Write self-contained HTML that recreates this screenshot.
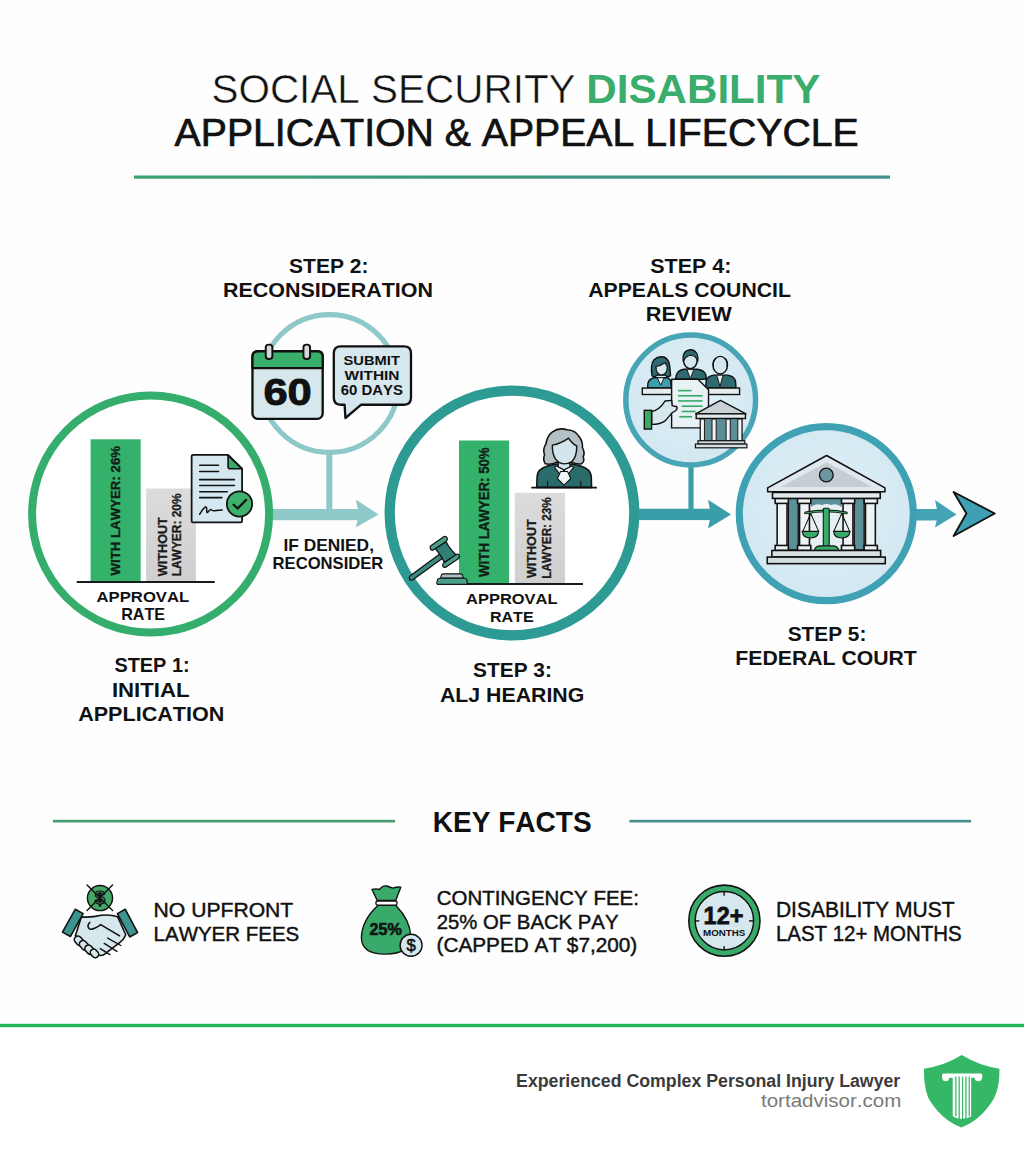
<!DOCTYPE html><html><head><meta charset="utf-8"><style>html,body{margin:0;padding:0;background:#fff;width:1024px;height:1154px;overflow:hidden}text{font-family:"Liberation Sans",sans-serif}</style></head><body><svg width="1024" height="1154" viewBox="0 0 1024 1154" style="display:block;font-family:'Liberation Sans',sans-serif;font-kerning:none"><rect x="0" y="0" width="1024" height="1025" fill="#fefefe"/><rect x="0" y="1025" width="1024" height="129" fill="#ffffff"/><text x="211.46" y="102.60" font-size="39.83" font-weight="normal" fill="#111" textLength="364.13" lengthAdjust="spacingAndGlyphs" stroke="#fefefe" stroke-width="0.5">SOCIAL SECURITY</text><text x="586.38" y="102.60" font-size="39.83" font-weight="bold" fill="#3aac6c" textLength="234.00" lengthAdjust="spacingAndGlyphs" >DISABILITY</text><text x="174.62" y="146.30" font-size="38.81" font-weight="normal" fill="#111" textLength="684.06" lengthAdjust="spacingAndGlyphs" stroke="#111" stroke-width="0.7">APPLICATION &amp; APPEAL LIFECYCLE</text><defs><linearGradient id="tl" x1="0" x2="1"><stop offset="0" stop-color="#3ca06e"/><stop offset="1" stop-color="#3f8f8e"/></linearGradient><radialGradient id="lb" cx="0.5" cy="0.45" r="0.6"><stop offset="0" stop-color="#dff0f7"/><stop offset="1" stop-color="#d2e7f1"/></radialGradient><linearGradient id="gb" x1="0" x2="0" y1="0" y2="1"><stop offset="0" stop-color="#dcdcdc"/><stop offset="1" stop-color="#cfcfcf"/></linearGradient></defs><rect x="134" y="175.5" width="756" height="3.2" fill="url(#tl)"/><rect x="268" y="509" width="93" height="11.2" fill="#8ec8c8"/><polygon points="355.8,499.6 378.6,514.5 355.8,527.6 359,514.5" fill="#8ec8c8"/><rect x="326.3" y="450" width="6" height="62" fill="#8ec8c8"/><rect x="630" y="508.7" width="83" height="11.4" fill="#3a9ea8"/><polygon points="708,499.8 731,514.4 708,528.4 711,514.4" fill="#3a9ea8"/><rect x="688.4" y="462" width="5.2" height="50" fill="#3a9ea8"/><rect x="910" y="509" width="30" height="11.5" fill="#45a3b6"/><polygon points="935,500 956.5,514.5 935,527.6 938,514.5" fill="#45a3b6"/><polygon points="953.6,492 994.7,513.5 953.6,536 966.4,513.5" fill="#3fa0b4" stroke="#111" stroke-width="1.9" stroke-linejoin="round"/><circle cx="150.6" cy="514" r="118.5" fill="#ffffff" stroke="#35ad6c" stroke-width="8"/><circle cx="329.5" cy="383.5" r="68.9" fill="none" stroke="#8ec8c8" stroke-width="5.2"/><circle cx="512" cy="513" r="122.3" fill="#ffffff" stroke="#2e9a94" stroke-width="10.3"/><circle cx="690.7" cy="400" r="64.9" fill="url(#lb)" stroke="#48a5b5" stroke-width="5.5"/><circle cx="826.3" cy="513.7" r="87" fill="url(#lb)" stroke="#3fa2b4" stroke-width="7.2"/><rect x="90.6" y="439.3" width="50.1" height="142.5" fill="#34b26c"/><rect x="146.1" y="488.5" width="49.8" height="93.3" fill="url(#gb)"/><rect x="76.7" y="581" width="138" height="2" fill="#161c1e"/><g transform="translate(120.30,575.50) rotate(-90)"><text x="-0.01" y="0" font-size="13.08" font-weight="bold" fill="#102015" textLength="129.56" lengthAdjust="spacingAndGlyphs" stroke="#102015" stroke-width="0.35">WITH LAWYER: 26%</text></g><g transform="translate(167.40,576.20) rotate(-90)"><text x="-0.01" y="0" font-size="13.08" font-weight="bold" fill="#1a1a1a" textLength="59.05" lengthAdjust="spacingAndGlyphs" stroke="#1a1a1a" stroke-width="0.3">WITHOUT</text></g><g transform="translate(180.60,575.50) rotate(-90)"><text x="-0.80" y="0" font-size="12.06" font-weight="bold" fill="#1a1a1a" textLength="82.91" lengthAdjust="spacingAndGlyphs" stroke="#1a1a1a" stroke-width="0.3">LAWYER: 20%</text></g><text x="96.58" y="602.00" font-size="14.97" font-weight="bold" fill="#111" textLength="92.63" lengthAdjust="spacingAndGlyphs" >APPROVAL</text><text x="121.22" y="620.00" font-size="15.99" font-weight="bold" fill="#111" textLength="43.91" lengthAdjust="spacingAndGlyphs" >RATE</text><g transform="translate(185,445) scale(0.07368)"><path d="M120,135 L585,135 L775,320 L775,1030 Q775,1050 755,1050 L110,1050 Q90,1050 90,1030 L90,155 Q90,135 120,135 Z" fill="#d5e8f0" stroke="#111" stroke-width="24" stroke-linejoin="round"/><path d="M585,140 L585,295 Q585,322 612,322 L770,322 Z" fill="#3aaa6b" stroke="#111" stroke-width="22" stroke-linejoin="round"/><g stroke="#111" stroke-width="22" stroke-linecap="round"><line x1="200" y1="275" x2="455" y2="275"/><line x1="200" y1="360" x2="455" y2="360"/><line x1="200" y1="470" x2="670" y2="470"/><line x1="200" y1="550" x2="670" y2="550"/><line x1="200" y1="635" x2="575" y2="635"/><line x1="200" y1="715" x2="500" y2="715"/></g><path d="M198,940 C240,870 280,820 292,850 C300,880 285,925 305,915 C330,895 345,860 365,885 C390,905 430,880 505,882" fill="none" stroke="#111" stroke-width="20" stroke-linecap="round"/><circle cx="740" cy="800" r="172" fill="#3db26d" stroke="#111" stroke-width="24"/><path d="M660,810 L715,862 L830,745" fill="none" stroke="#111" stroke-width="30" stroke-linecap="round" stroke-linejoin="round"/></g><text x="114.43" y="672.30" font-size="19.77" font-weight="bold" fill="#111" textLength="75.19" lengthAdjust="spacingAndGlyphs" >STEP 1:</text><text x="111.92" y="697.00" font-size="20.35" font-weight="bold" fill="#111" textLength="77.67" lengthAdjust="spacingAndGlyphs" >INITIAL</text><text x="78.16" y="720.90" font-size="20.49" font-weight="bold" fill="#111" textLength="146.19" lengthAdjust="spacingAndGlyphs" >APPLICATION</text><text x="289.09" y="272.70" font-size="20.49" font-weight="bold" fill="#111" textLength="79.43" lengthAdjust="spacingAndGlyphs" >STEP 2:</text><text x="223.06" y="296.60" font-size="19.62" font-weight="bold" fill="#111" textLength="209.88" lengthAdjust="spacingAndGlyphs" >RECONSIDERATION</text><text x="283.44" y="550.80" font-size="17.15" font-weight="bold" fill="#111" textLength="90.52" lengthAdjust="spacingAndGlyphs" >IF DENIED,</text><text x="272.59" y="569.20" font-size="15.99" font-weight="bold" fill="#111" textLength="110.75" lengthAdjust="spacingAndGlyphs" >RECONSIDER</text><text x="473.10" y="677.30" font-size="19.77" font-weight="bold" fill="#111" textLength="78.81" lengthAdjust="spacingAndGlyphs" >STEP 3:</text><text x="439.97" y="701.80" font-size="20.06" font-weight="bold" fill="#111" textLength="144.35" lengthAdjust="spacingAndGlyphs" >ALJ HEARING</text><text x="650.18" y="272.70" font-size="19.91" font-weight="bold" fill="#111" textLength="81.29" lengthAdjust="spacingAndGlyphs" >STEP 4:</text><text x="588.17" y="297.00" font-size="19.33" font-weight="bold" fill="#111" textLength="202.78" lengthAdjust="spacingAndGlyphs" >APPEALS COUNCIL</text><text x="645.84" y="320.50" font-size="19.62" font-weight="bold" fill="#111" textLength="85.88" lengthAdjust="spacingAndGlyphs" >REVIEW</text><text x="787.70" y="640.50" font-size="19.91" font-weight="bold" fill="#111" textLength="78.70" lengthAdjust="spacingAndGlyphs" >STEP 5:</text><text x="735.38" y="664.80" font-size="20.35" font-weight="bold" fill="#111" textLength="181.45" lengthAdjust="spacingAndGlyphs" >FEDERAL COURT</text><g transform="translate(245,335) scale(0.1660)"><rect x="45" y="98" width="423" height="407" rx="32" fill="#d6e7ee" stroke="#111" stroke-width="14"/><path d="M45,200 L45,130 Q45,98 77,98 L436,98 Q468,98 468,130 L468,200 Z" fill="#38b06c" stroke="#111" stroke-width="14" stroke-linejoin="round"/><rect x="125" y="58" width="40" height="87" rx="18" fill="#d3dadc" stroke="#111" stroke-width="12"/><rect x="352" y="58" width="40" height="87" rx="18" fill="#d3dadc" stroke="#111" stroke-width="12"/><path d="M535,110 Q535,68 577,68 L958,68 Q1000,68 1000,110 L1000,378 Q1000,420 958,420 L700,420 L605,500 L600,420 L577,420 Q535,420 535,378 Z" fill="#d6e7ee" stroke="#111" stroke-width="14" stroke-linejoin="round"/></g><text x="263.41" y="405.00" font-size="36.34" font-weight="bold" fill="#111" textLength="48.38" lengthAdjust="spacingAndGlyphs" stroke="#111" stroke-width="0.9">60</text><text x="343.58" y="364.50" font-size="12.79" font-weight="bold" fill="#111" textLength="56.28" lengthAdjust="spacingAndGlyphs" >SUBMIT</text><text x="344.58" y="379.80" font-size="13.23" font-weight="bold" fill="#111" textLength="54.96" lengthAdjust="spacingAndGlyphs" >WITHIN</text><text x="340.75" y="395.10" font-size="13.81" font-weight="bold" fill="#111" textLength="62.23" lengthAdjust="spacingAndGlyphs" >60 DAYS</text><rect x="459" y="440.5" width="50.1" height="143" fill="#34b26c"/><rect x="514.8" y="492.8" width="50.2" height="90.7" fill="url(#gb)"/><rect x="437" y="583" width="146" height="2" fill="#161c1e"/><g transform="translate(489.20,576.90) rotate(-90)"><text x="-0.01" y="0" font-size="14.53" font-weight="bold" fill="#102015" textLength="129.56" lengthAdjust="spacingAndGlyphs" stroke="#102015" stroke-width="0.35">WITH LAWYER: 50%</text></g><g transform="translate(536.40,578.00) rotate(-90)"><text x="-0.01" y="0" font-size="13.52" font-weight="bold" fill="#1a1a1a" textLength="58.65" lengthAdjust="spacingAndGlyphs" stroke="#1a1a1a" stroke-width="0.3">WITHOUT</text></g><g transform="translate(550.70,578.00) rotate(-90)"><text x="-0.79" y="0" font-size="13.37" font-weight="bold" fill="#1a1a1a" textLength="81.60" lengthAdjust="spacingAndGlyphs" stroke="#1a1a1a" stroke-width="0.3">LAWYER: 23%</text></g><text x="466.09" y="604.00" font-size="14.53" font-weight="bold" fill="#111" textLength="91.42" lengthAdjust="spacingAndGlyphs" >APPROVAL</text><text x="489.93" y="621.50" font-size="15.26" font-weight="bold" fill="#111" textLength="43.70" lengthAdjust="spacingAndGlyphs" >RATE</text><g transform="translate(400,525) scale(0.078125)"><path d="M135,645 L510,372 L545,425 L165,700 Q135,715 120,690 Q112,665 135,645 Z" fill="#3a8a80" stroke="#111" stroke-width="16" stroke-linejoin="round"/><path d="M450,300 L590,215 Q630,300 720,385 L570,480 Q520,380 450,300 Z" fill="#2f7f78" stroke="#111" stroke-width="16" stroke-linejoin="round"/><path d="M395,265 L560,150 Q590,135 605,170 Q612,195 590,210 L425,320 Q400,330 388,300 Q380,280 395,265 Z" fill="#4aa088" stroke="#111" stroke-width="16" stroke-linejoin="round"/><path d="M560,485 L725,375 Q750,365 760,395 Q765,420 745,432 L585,540 Q560,552 548,525 Q542,500 560,485 Z" fill="#4aa088" stroke="#111" stroke-width="16" stroke-linejoin="round"/><path d="M520,680 L530,640 Q535,625 555,625 L775,625 Q795,625 800,640 L812,680 Z" fill="#a9c2c8" stroke="#111" stroke-width="14" stroke-linejoin="round"/><path d="M470,740 L480,700 Q486,682 505,682 L830,682 Q848,682 854,700 L862,740 Q862,758 845,758 L488,758 Q470,758 470,740 Z" fill="#4aa088" stroke="#111" stroke-width="14" stroke-linejoin="round"/></g><g transform="translate(525,420) scale(0.078125)"><path d="M150,862 L155,720 Q165,625 280,592 L390,562 L610,562 L720,592 Q835,625 848,720 L852,862 Z" fill="#2a6b6c" stroke="#111" stroke-width="20" stroke-linejoin="round"/><path d="M290,780 L290,860 M715,780 L715,860" stroke="#111" stroke-width="14"/><path d="M430,520 L570,520 L575,600 L500,640 L425,600 Z" fill="#d3e5ec" stroke="#111" stroke-width="14" stroke-linejoin="round"/><path d="M260,560 Q225,510 250,445 Q222,375 268,305 Q285,200 352,152 Q432,92 540,125 Q645,132 692,212 Q742,275 735,352 Q772,420 745,472 Q770,535 720,562 Q650,570 600,540 L405,540 Q335,578 260,560 Z" fill="#b4c0c4" stroke="#111" stroke-width="20" stroke-linejoin="round"/><path d="M350,322 Q455,305 558,232 Q600,302 662,332 Q664,470 600,532 Q550,562 500,562 Q430,558 385,492 Q348,422 350,322 Z" fill="#d3e5ec" stroke="#111" stroke-width="18" stroke-linejoin="round"/><path d="M395,585 L500,640 L455,705 L380,610 Z M605,585 L500,640 L545,705 L620,610 Z" fill="#eef3f5" stroke="#111" stroke-width="14" stroke-linejoin="round"/><path d="M455,660 L545,660 L585,750 L500,835 L415,750 Z" fill="#eef3f5" stroke="#111" stroke-width="14" stroke-linejoin="round"/><line x1="80" y1="865" x2="920" y2="865" stroke="#111" stroke-width="22"/></g><g transform="translate(630,340) scale(0.11719)"><path d="M150,410 L153,370 Q160,335 205,322 L320,322 Q348,335 350,370 L352,410 Z" fill="#3b9fb0" stroke="#111" stroke-width="12" stroke-linejoin="round"/><path d="M232,322 L262,385 L292,322 Z" fill="#eef3f4" stroke="#111" stroke-width="8"/><path d="M188,305 Q172,210 205,168 Q240,135 290,145 Q338,165 340,235 L346,305 Q325,322 300,300 L230,300 Q205,322 188,305 Z" fill="#2e6a70" stroke="#111" stroke-width="12" stroke-linejoin="round"/><path d="M222,225 Q265,220 300,192 Q308,215 318,225 Q320,290 268,300 Q220,290 222,225 Z" fill="#d6e7ee" stroke="#111" stroke-width="10" stroke-linejoin="round"/><path d="M645,410 L650,350 Q660,308 715,300 L830,300 Q890,308 900,350 L905,410 Z" fill="#2e6a70" stroke="#111" stroke-width="12"/><path d="M740,300 L768,395 L795,300 Z" fill="#e8eef0" stroke="#111" stroke-width="8"/><ellipse cx="770" cy="215" rx="62" ry="75" fill="#d6e7ee" stroke="#111" stroke-width="12"/><path d="M712,230 Q705,170 730,160 M828,230 Q835,170 810,160" fill="none" stroke="#111" stroke-width="10"/><path d="M388,335 L395,300 Q410,258 460,250 L575,250 Q635,258 648,300 L652,335 Z" fill="#2e6a70" stroke="#111" stroke-width="12"/><path d="M485,250 L515,330 L545,250 Z" fill="#e8eef0" stroke="#111" stroke-width="8"/><ellipse cx="515" cy="175" rx="58" ry="70" fill="#d6e7ee" stroke="#111" stroke-width="12"/><path d="M455,185 Q440,90 515,82 Q590,88 578,185 Q565,135 520,130 Q475,135 455,185 Z" fill="#2e6a70" stroke="#111" stroke-width="10" stroke-linejoin="round"/><rect x="105" y="410" width="830" height="55" fill="#e6ecee" stroke="#111" stroke-width="12"/><path d="M355,335 L580,335 L670,425 L670,750 L355,750 Z" fill="#e8f1f4" stroke="#111" stroke-width="12" stroke-linejoin="round"/><g stroke="#3aaa6b" stroke-width="14"><line x1="410" y1="432" x2="525" y2="432"/><line x1="410" y1="476" x2="620" y2="476"/><line x1="410" y1="520" x2="620" y2="520"/><line x1="440" y1="565" x2="620" y2="565"/><line x1="440" y1="610" x2="560" y2="610"/><line x1="420" y1="655" x2="530" y2="655"/></g><path d="M185,610 Q250,600 300,520 L355,515 L360,560 L400,570 Q410,600 360,620 L300,690 Q260,720 185,720 Z" fill="#d6e7ee" stroke="#111" stroke-width="12" stroke-linejoin="round"/><rect x="122" y="600" width="62" height="160" fill="#3aaa6b" stroke="#111" stroke-width="12"/><path d="M560,630 L772,515 L990,630 Z" fill="#c9d3d7" stroke="#111" stroke-width="12" stroke-linejoin="round"/><rect x="565" y="630" width="420" height="40" fill="#e0e8ea" stroke="#111" stroke-width="12"/><rect x="600" y="670" width="355" height="190" fill="#5d8e98" stroke="#111" stroke-width="10"/><g fill="#f2f5f6" stroke="#111" stroke-width="8"><rect x="600" y="675" width="35" height="185"/><rect x="700" y="675" width="35" height="185"/><rect x="820" y="675" width="35" height="185"/><rect x="920" y="675" width="35" height="185"/></g><rect x="580" y="860" width="400" height="28" fill="#d6dfe2" stroke="#111" stroke-width="10"/><rect x="558" y="888" width="440" height="32" fill="#d6dfe2" stroke="#111" stroke-width="10"/></g><g transform="translate(760,445) scale(0.13184)"><rect x="120" y="400" width="770" height="380" fill="#e6eff2"/><rect x="215" y="405" width="75" height="390" fill="#5b8f99" stroke="#111" stroke-width="10"/><rect x="715" y="405" width="75" height="390" fill="#5b8f99" stroke="#111" stroke-width="10"/><path d="M385,405 L620,405 L620,470 Q580,440 540,455 Q505,440 470,455 Q420,440 385,470 Z" fill="#5b8f99"/><g fill="#eef3f5" stroke="#111" stroke-width="12"><rect x="130" y="440" width="75" height="325"/><rect x="300" y="440" width="75" height="325"/><rect x="630" y="440" width="75" height="325"/><rect x="800" y="440" width="75" height="325"/><rect x="115" y="405" width="100" height="38"/><rect x="285" y="405" width="100" height="38"/><rect x="618" y="405" width="100" height="38"/><rect x="790" y="405" width="100" height="38"/><rect x="115" y="762" width="100" height="38"/><rect x="285" y="762" width="100" height="38"/><rect x="618" y="762" width="100" height="38"/><rect x="790" y="762" width="100" height="38"/></g><path d="M58,325 L505,80 L948,325 L948,355 L58,355 Z" fill="#dfe8ec" stroke="#111" stroke-width="12" stroke-linejoin="round"/><path d="M160,318 L505,130 L850,318 Z" fill="#c5ced2"/><circle cx="503" cy="228" r="52" fill="#6b97a2" stroke="#111" stroke-width="10"/><rect x="95" y="360" width="817" height="45" fill="#e3eaed" stroke="#111" stroke-width="12"/><g stroke="#111" stroke-width="8" fill="none"><line x1="385" y1="520" x2="325" y2="655"/><line x1="385" y1="520" x2="445" y2="655"/><line x1="620" y1="520" x2="560" y2="655"/><line x1="620" y1="520" x2="680" y2="655"/></g><path d="M320,655 L445,655 Q440,705 383,705 Q325,705 320,655 Z" fill="#3aaa6b" stroke="#111" stroke-width="8"/><path d="M558,655 L683,655 Q678,705 620,705 Q563,705 558,655 Z" fill="#3aaa6b" stroke="#111" stroke-width="8"/><path d="M345,515 Q500,485 655,515" fill="none" stroke="#111" stroke-width="20" stroke-linecap="round"/><path d="M345,515 Q500,485 655,515" fill="none" stroke="#3aaa6b" stroke-width="8" stroke-linecap="round"/><rect x="480" y="480" width="45" height="290" rx="8" fill="#3aaa6b" stroke="#111" stroke-width="8"/><path d="M412,800 Q420,765 460,765 L550,765 Q590,765 598,800 Z" fill="#3aaa6b" stroke="#111" stroke-width="8"/><rect x="90" y="800" width="825" height="50" fill="#d9e1e4" stroke="#111" stroke-width="12"/><rect x="55" y="850" width="895" height="50" fill="#d3dcdf" stroke="#111" stroke-width="12"/></g><rect x="53" y="819.8" width="342" height="2.7" fill="#479c70"/><rect x="629.4" y="819.8" width="341.6" height="2.7" fill="#468d8c"/><text x="432.82" y="831.60" font-size="29.51" font-weight="bold" fill="#111" textLength="158.87" lengthAdjust="spacingAndGlyphs" >KEY FACTS</text><text x="153.57" y="917.00" font-size="20.64" font-weight="normal" fill="#111" textLength="139.72" lengthAdjust="spacingAndGlyphs" stroke="#111" stroke-width="0.45">NO UPFRONT</text><text x="153.62" y="940.50" font-size="21.08" font-weight="normal" fill="#111" textLength="145.62" lengthAdjust="spacingAndGlyphs" stroke="#111" stroke-width="0.45">LAWYER FEES</text><text x="436.76" y="904.80" font-size="19.77" font-weight="normal" fill="#111" textLength="202.10" lengthAdjust="spacingAndGlyphs" stroke="#111" stroke-width="0.45">CONTINGENCY FEE:</text><text x="436.78" y="929.00" font-size="20.64" font-weight="normal" fill="#111" textLength="181.67" lengthAdjust="spacingAndGlyphs" stroke="#111" stroke-width="0.45">25% OF BACK PAY</text><text x="436.51" y="952.00" font-size="20.64" font-weight="normal" fill="#111" textLength="200.77" lengthAdjust="spacingAndGlyphs" stroke="#111" stroke-width="0.45">(CAPPED AT $7,200)</text><text x="775.88" y="916.90" font-size="22.24" font-weight="normal" fill="#111" textLength="178.61" lengthAdjust="spacingAndGlyphs" stroke="#111" stroke-width="0.45">DISABILITY MUST</text><text x="775.92" y="941.20" font-size="22.53" font-weight="normal" fill="#111" textLength="185.71" lengthAdjust="spacingAndGlyphs" stroke="#111" stroke-width="0.45">LAST 12+ MONTHS</text><g transform="translate(55,875) scale(0.08789)"><path d="M300,478 Q430,484 525,458 Q640,448 712,474 L805,680 Q785,735 735,770 L565,900 Q525,930 485,905 L232,690 Z" fill="#d6e7ee" stroke="#111" stroke-width="18" stroke-linejoin="round"/><g fill="#d6e7ee" stroke="#111" stroke-width="18"><rect x="232" y="690" width="82" height="118" rx="41" transform="rotate(-42 273 749)"/><rect x="292" y="740" width="82" height="124" rx="41" transform="rotate(-42 333 802)"/><rect x="352" y="792" width="82" height="118" rx="41" transform="rotate(-42 393 851)"/><rect x="410" y="840" width="78" height="104" rx="39" transform="rotate(-42 449 892)"/></g><path d="M395,540 Q355,585 395,615 Q440,625 520,565 L735,692" fill="none" stroke="#111" stroke-width="18" stroke-linecap="round" stroke-linejoin="round"/><path d="M600,718 L748,802 M560,778 L705,868 M515,838 L625,905" fill="none" stroke="#111" stroke-width="16" stroke-linecap="round"/><path d="M85,650 L230,390 L320,440 L175,700 Z" fill="#3b9490" stroke="#111" stroke-width="18" stroke-linejoin="round"/><path d="M710,440 L800,390 L940,655 L850,705 Z" fill="#3b9490" stroke="#111" stroke-width="18" stroke-linejoin="round"/><circle cx="512" cy="262" r="143" fill="#45a86a" stroke="#111" stroke-width="16"/><text x="512" y="335" font-size="210" font-weight="bold" text-anchor="middle" fill="#45a86a" stroke="#111" stroke-width="14">$</text><path d="M365,115 L655,405 M655,115 L365,405" stroke="#111" stroke-width="16" stroke-linecap="round"/></g><g transform="translate(350,875) scale(0.08789)"><path d="M320,345 Q130,520 130,720 Q135,900 400,900 Q690,900 690,700 Q690,520 520,345 Z" fill="#3aaa6b" stroke="#111" stroke-width="16" stroke-linejoin="round"/><path d="M250,165 Q300,150 335,165 Q370,115 420,125 Q460,140 490,150 Q540,130 578,140 L520,290 L310,290 Z" fill="#3aaa6b" stroke="#111" stroke-width="16" stroke-linejoin="round"/><rect x="295" y="295" width="240" height="50" rx="20" fill="#ffffff" stroke="#111" stroke-width="16"/><circle cx="695" cy="800" r="125" fill="#d6e7ee" stroke="#111" stroke-width="16"/><text x="695" y="870" font-size="190" text-anchor="middle" fill="#111" stroke="#111" stroke-width="6">$</text></g><text x="369.64" y="935.30" font-size="15.99" font-weight="bold" fill="#111" textLength="32.28" lengthAdjust="spacingAndGlyphs" stroke="#111" stroke-width="0.6">25%</text><g transform="translate(680,875) scale(0.08789)"><circle cx="505" cy="520" r="405" fill="#3aaa6b" stroke="#111" stroke-width="18"/><circle cx="505" cy="520" r="332" fill="#d6e7ee" stroke="#111" stroke-width="16"/><g stroke="#111" stroke-width="16"><line x1="502" y1="188" x2="502" y2="235"/><line x1="502" y1="810" x2="502" y2="858"/><line x1="168" y1="522" x2="220" y2="522"/><line x1="785" y1="522" x2="840" y2="522"/></g></g><text x="703.62" y="923.80" font-size="24.27" font-weight="bold" fill="#111" textLength="39.72" lengthAdjust="spacingAndGlyphs" stroke="#111" stroke-width="0.8">12+</text><text x="703.05" y="935.60" font-size="9.59" font-weight="bold" fill="#111" textLength="42.34" lengthAdjust="spacingAndGlyphs" >MONTHS</text><rect x="0" y="1023.8" width="1024" height="3.4" fill="#22b55a"/><text x="516.11" y="1086.70" font-size="19.19" font-weight="bold" fill="#3b3b3b" textLength="384.15" lengthAdjust="spacingAndGlyphs" >Experienced Complex Personal Injury Lawyer</text><text x="760.99" y="1107.00" font-size="19.19" font-weight="normal" fill="#7a7a7a" textLength="140.36" lengthAdjust="spacingAndGlyphs" >tortadvisor.com</text><g transform="translate(915,1048) scale(0.08984)"><path d="M520,78 Q720,200 940,230 Q945,420 880,560 Q740,800 515,885 Q290,800 150,560 Q95,420 100,230 Q320,200 520,78 Z" fill="#34b866"/><path d="M300,305 Q300,285 320,285 L730,285 Q750,285 750,305 Q750,370 705,370 Q665,370 665,330 L625,330 L625,760 Q580,790 520,790 Q460,790 420,760 L420,330 L380,330 Q380,370 340,370 Q300,370 300,305 Z" fill="#ffffff"/><g stroke="#34b866" stroke-width="14"><line x1="455" y1="318" x2="455" y2="760"/><line x1="492" y1="318" x2="492" y2="790"/><line x1="530" y1="318" x2="530" y2="790"/><line x1="567" y1="318" x2="567" y2="790"/><line x1="604" y1="318" x2="604" y2="760"/></g></g></svg></body></html>
